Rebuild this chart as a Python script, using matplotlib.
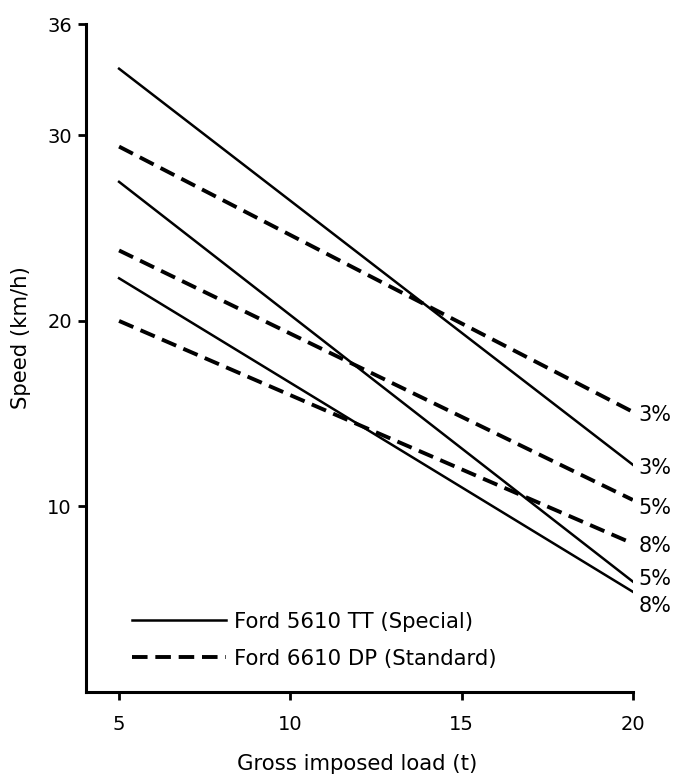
import matplotlib
matplotlib.use("Agg")
import matplotlib.pyplot as plt

# gross imposed load (t)
load = [5, 20]

# Ford 5610 TT (Special) - solid
special_3 = [33.6, 12.25]
special_5 = [27.5, 5.95]
special_8 = [22.3, 5.4]

# Ford 6610 DP (Standard) - dashed
standard_3 = [29.4, 15.1]
standard_5 = [23.8, 10.35]
standard_8 = [20.0, 8.0]

grades = ["3%", "5%", "8%"]

plt.rcParams['font.family'] = ['DejaVu Sans']

fig = plt.figure(figsize=(6.76, 7.8), dpi=100)
ax = fig.add_axes([0.127, 0.113, 0.809, 0.856])

dash = (0, (4.0, 2.0))
ax.plot(load, special_3, color="k", lw=1.8, label="Ford 5610 TT (Special)")
ax.plot(load, special_5, color="k", lw=1.8)
ax.plot(load, special_8, color="k", lw=1.8)
ax.plot(load, standard_3, color="k", lw=2.8, linestyle=dash, label="Ford 6610 DP (Standard)")
ax.plot(load, standard_5, color="k", lw=2.8, linestyle=dash)
ax.plot(load, standard_8, color="k", lw=2.8, linestyle=dash)

# end-of-line grade labels, nudged (pixels) so they don't collide
ends = [standard_3[1], special_3[1], standard_5[1], standard_8[1], special_5[1], special_8[1]]
names = [grades[0], grades[0], grades[1], grades[2], grades[1], grades[2]]
nudge = [-3, -3, -8, -3, 3, -14]
for v, n, d in zip(ends, names, nudge):
    ax.annotate(n, xy=(load[1], v), xytext=(6, d), textcoords="offset pixels",
                fontsize=15, va="center", ha="left", annotation_clip=False)

ax.set_xlim(4.03, 20)
ax.set_ylim(0, 36)
ax.set_xticks([5, 10, 15, 20])
ax.set_yticks([10, 20, 30, 36])
ax.tick_params(axis="both", direction="out", width=2, length=6, labelsize=14)
ax.tick_params(axis="x", pad=11)
ax.tick_params(axis="y", pad=4)

for s in ["top", "right"]:
    ax.spines[s].set_visible(False)
for s in ["left", "bottom"]:
    ax.spines[s].set_linewidth(2.2)

ax.set_xlabel("Gross imposed load (t)", fontsize=15.3)
ax.xaxis.set_label_coords(0.497, -0.093)
ax.set_ylabel("Speed (km/h)", fontsize=15.3)
ax.yaxis.set_label_coords(-0.1, 0.53)

leg = ax.legend(loc="lower left", bbox_to_anchor=(0.05, 0.006), frameon=False,
                fontsize=15.3, handlelength=4.4, handletextpad=0.4, labelspacing=0.8)

fig.savefig("out.png", dpi=100)
